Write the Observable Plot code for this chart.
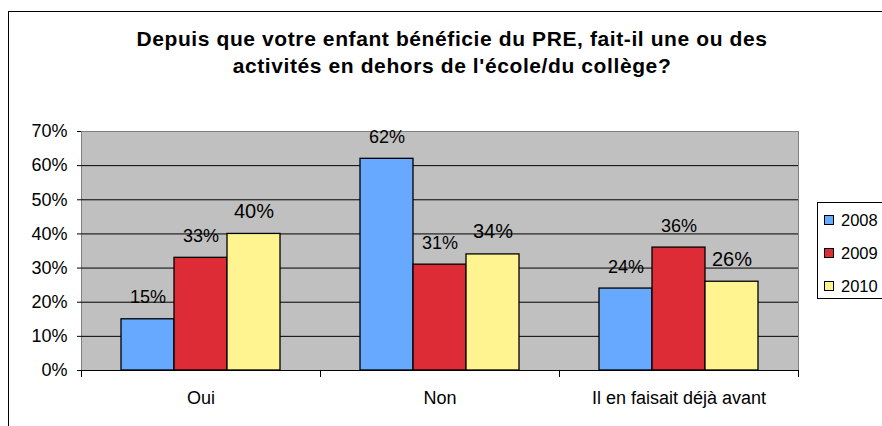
<!DOCTYPE html>
<html>
<head>
<meta charset="utf-8">
<script src="https://cdn.jsdelivr.net/npm/d3@7"></script>
<script src="https://cdn.jsdelivr.net/npm/@observablehq/plot@0.6"></script>
<style>
  html, body { margin: 0; padding: 0; background: #fff; }
  #wrap { position: relative; width: 882px; height: 426px; overflow: hidden; font-family: "Liberation Sans", Arial, sans-serif; }
  #border { position: absolute; left: 8px; top: 11px; width: 1000px; height: 600px; border: 1px solid #000; box-sizing: border-box; }
  #title { position: absolute; left: 0; top: 25px; width: 904px; text-align: center; font-weight: bold; font-size: 21px; letter-spacing: 0.6px; line-height: 27px; color: #000; }
  #chart { position: absolute; left: 0; top: 0; }
  #legend { position: absolute; left: 817px; top: 202px; width: 120px; height: 97px; border: 1px solid #000; box-sizing: border-box; background: #fff; font-size: 16.5px; }
  .item { position: absolute; left: 6px; height: 20px; line-height: 20px; white-space: nowrap; }
  .sw { display: inline-block; width: 8px; height: 8px; border: 1px solid #000; box-sizing: content-box; margin-right: 7px; vertical-align: 1px; }
</style>
</head>
<body>
<div id="wrap">
  <div id="border"></div>
  <div id="title"></div>
  <div id="chart"></div>
  <div id="legend"></div>
</div>
<script>
// ---- data ----
const titleLines = ["Depuis que votre enfant bénéficie du PRE, fait-il une ou des", "activités en dehors de l'école/du collège?"];
const categories = ["Oui", "Non", "Il en faisait déjà avant"];
const years = ["2008", "2009", "2010"];
const values2008 = [15, 62, 24];
const values2009 = [33, 31, 36];
const values2010 = [40, 34, 26];
const yTicks = [0, 10, 20, 30, 40, 50, 60, 70];
const colors = ["#66A9FF", "#DD2C35", "#FFF48F"];

const series = [values2008, values2009, values2010];
const rows = [];
categories.forEach((c, i) => years.forEach((y, j) => rows.push({category: c, year: y, value: series[j][i]})));

document.getElementById("title").innerHTML = titleLines.join("<br>");

const chart = Plot.plot({
  width: 882,
  height: 426,
  marginLeft: 80,
  marginRight: 84,
  marginTop: 131,
  marginBottom: 56,
  style: {fontFamily: "'Liberation Sans', Arial, sans-serif", fontSize: "18px", color: "#000", background: "transparent"},
  fx: {domain: categories, padding: 0, axis: null},
  x: {domain: years, paddingInner: 0, paddingOuter: 0.75, axis: null},
  y: {domain: [0, 70], axis: null},
  color: {domain: years, range: colors},
  marks: [
    Plot.frame({fill: "#C0C0C0", stroke: "#808080", facet: "super"}),
    Plot.text(rows, {
      fx: "category", x: "year", y: "value",
      text: d => d.value + "%",
      lineAnchor: "bottom", dy: -16,
      fontSize: d => d.year === "2010" ? 20 : 18,
      fill: "#000"
    }),
    Plot.ruleY(yTicks.filter(t => t < 70), {stroke: "#000", strokeWidth: 1}),
    Plot.barY(rows, {fx: "category", x: "year", y: "value", fill: "year", stroke: "#000", strokeWidth: 1.3}),
    Plot.ruleY([0], {stroke: "#000"}),
    Plot.axisY({ticks: yTicks, tickFormat: d => d + "%", tickSize: 4, tickPadding: 10, line: true, stroke: "#000", label: null}),
    Plot.frame({anchor: "left", stroke: "#000", insetTop: 239, insetBottom: -6}),
    Plot.frame({anchor: "right", stroke: "#000", insetTop: 239, insetBottom: -6}),
    Plot.axisFx({anchor: "bottom", tickSize: 0, tickPadding: 21, fontSize: 18, label: null})
  ]
});
document.getElementById("chart").appendChild(chart);

// legend
const legend = document.getElementById("legend");
years.forEach((y, j) => {
  const item = document.createElement("div");
  item.className = "item";
  item.style.top = (7 + j * 33) + "px";
  const sw = document.createElement("span");
  sw.className = "sw";
  sw.style.background = colors[j];
  item.appendChild(sw);
  item.appendChild(document.createTextNode(y));
  legend.appendChild(item);
});
</script>
</body>
</html>
